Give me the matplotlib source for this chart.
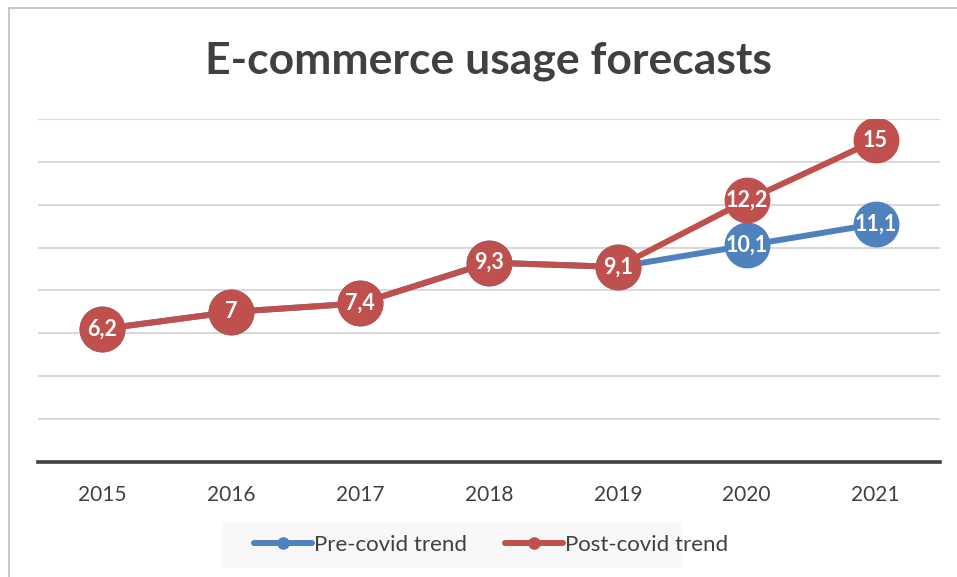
import matplotlib
matplotlib.use("Agg")
import matplotlib.pyplot as plt
from matplotlib.patches import Rectangle
from matplotlib.lines import Line2D

plt.rcParams['font.family'] = ['Lato', 'DejaVu Sans']

years = ['2015', '2016', '2017', '2018', '2019', '2020', '2021']
pre_covid = [6.2, 7, 7.4, 9.3, 9.1, 10.1, 11.1]
post_covid = [6.2, 7, 7.4, 9.3, 9.1, 12.2, 15]

blue = '#4F81BD'
red = '#C0504D'

fig = plt.figure(figsize=(9.57, 5.77), dpi=100)
ax = fig.add_axes([0.0397, 0.1993, 0.9425, 0.5945])

x = list(range(len(years)))
ax.plot(x, pre_covid, color=blue, lw=4.3, marker='o', ms=32, zorder=3,
        solid_capstyle='round')
ax.plot(x, post_covid, color=red, lw=4.3, marker='o', ms=32, zorder=4,
        solid_capstyle='round')

def fmt(v):
    s = ('%g' % v).replace('.', ',')
    return s

for i, v in enumerate(pre_covid):
    if v != post_covid[i]:
        ax.text(i, v, fmt(v), ha='center', va='center', color='white',
                fontsize=15.5, fontweight='bold', zorder=5)
for i, v in enumerate(post_covid):
    ax.text(i, v, fmt(v), ha='center', va='center', color='white',
            fontsize=15.5, fontweight='bold', zorder=6)

ax.set_xlim(-0.5, len(years) - 0.5)
ax.set_ylim(0, 16)
ax.set_yticks(range(0, 17, 2))
ax.yaxis.grid(True, color='#D9D9D9', lw=1.5)
ax.set_axisbelow(True)
ax.tick_params(axis='y', left=False, labelleft=False)
ax.set_xticks(x)
ax.set_xticklabels(years)
ax.tick_params(axis='x', bottom=False, labelsize=15, labelcolor='#404040', pad=13)
for side in ['top', 'right', 'left']:
    ax.spines[side].set_visible(False)
ax.spines['bottom'].set_color('#404040')
ax.spines['bottom'].set_linewidth(2.6)
ax.spines['bottom'].set_zorder(2)

fig.text(0.51, 0.895, 'E-commerce usage forecasts', ha='center', va='center',
         fontsize=32, fontweight='bold', color='#404040')

# outer chart border (left and top edges)
fig.add_artist(Line2D([0.0094, 0.0094], [0, 0.986], transform=fig.transFigure,
                      color='#BFBFBF', lw=1.2))
fig.add_artist(Line2D([0.0094, 1.0], [0.986, 0.986], transform=fig.transFigure,
                      color='#BFBFBF', lw=1.2))

# legend
fig.add_artist(Rectangle((0.232, 0.015), 0.481, 0.08, transform=fig.transFigure,
                         facecolor='#F8F8F8', edgecolor='none'))
handles = [Line2D([], [], color=blue, lw=4.3, marker='o', ms=8, solid_capstyle='round'),
           Line2D([], [], color=red, lw=4.3, marker='o', ms=8, solid_capstyle='round')]
fig.legend(handles, ['Pre-covid trend', 'Post-covid trend'], loc='center',
           bbox_to_anchor=(0.513, 0.055), ncol=2, frameon=False,
           fontsize=16, handlelength=2.6, handletextpad=0.1, columnspacing=1.7,
           labelcolor='#404040')

fig.savefig('out.png', dpi=100)
